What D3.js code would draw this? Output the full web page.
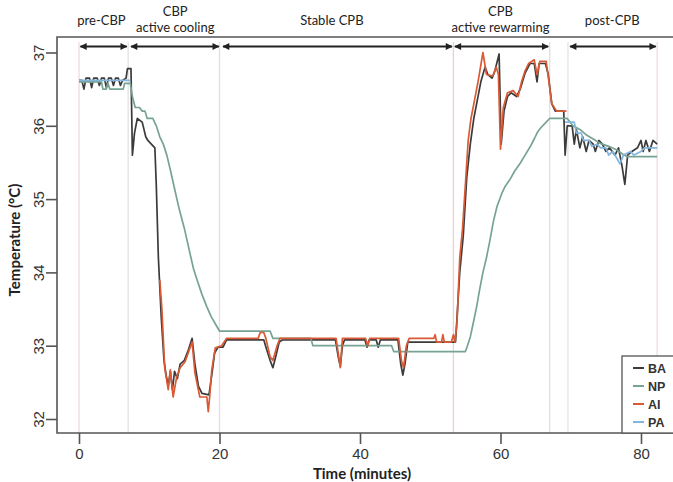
<!DOCTYPE html>
<html><head><meta charset="utf-8">
<script src="https://cdn.jsdelivr.net/npm/d3@7"></script>
<style>body{margin:0;background:#fff}svg{display:block}</style>
</head><body>
<svg id="c" width="673" height="482"></svg>
<script>
// ---- data (time in minutes, temperature in °C) ----
const xTicks = [0, 20, 40, 60, 80];
const yTicks = [32, 33, 34, 35, 36, 37];
const seriesNames = ["BA", "NP", "AI", "PA"];
const seriesColors = ["#3d3a3a", "#76a394", "#d95a35", "#82b6dd"];

const BA = [[0,36.62],[0.4,36.62],[0.7,36.5],[1.0,36.65],[1.5,36.65],[1.8,36.52],[2.1,36.65],[2.6,36.65],[2.9,36.55],[3.2,36.65],[3.6,36.65],[3.9,36.52],[4.2,36.65],[4.6,36.65],[4.9,36.55],[5.2,36.65],[5.6,36.65],[5.9,36.55],[6.2,36.62],[6.7,36.65],[6.9,36.78],[7.4,36.78],[7.6,35.6],[7.9,35.9],[8.3,36.1],[9.0,36.05],[9.5,35.85],[9.8,35.8],[10.3,35.75],[10.8,35.7],[11.0,35.2],[11.3,34.2],[11.7,33.4],[12.1,32.8],[12.4,32.6],[12.7,32.45],[13.0,32.65],[13.3,32.4],[13.6,32.65],[14.0,32.55],[14.4,32.75],[15.0,32.8],[15.6,32.95],[16.1,33.1],[16.5,32.75],[17.0,32.45],[17.5,32.35],[18.5,32.33],[18.9,32.6],[19.3,32.9],[19.8,32.98],[20.5,32.98],[21.0,33.08],[26.3,33.08],[26.7,32.95],[27.2,32.8],[27.6,32.7],[28.0,32.85],[28.5,33.05],[29,33.08],[36.5,33.08],[36.9,32.85],[37.2,32.72],[37.5,33.0],[37.8,33.08],[40.7,33.08],[41.0,32.98],[41.3,33.08],[42.3,33.08],[42.6,32.98],[42.9,33.08],[45.4,33.08],[45.8,32.75],[46.1,32.6],[46.4,32.75],[46.8,33.05],[53.6,33.05],[54.2,34.0],[54.7,34.5],[55.2,35.3],[55.7,35.75],[56.2,36.1],[56.6,36.3],[57.2,36.6],[57.8,36.8],[58.2,36.7],[58.8,36.65],[59.2,36.75],[59.8,36.98],[60.1,35.75],[60.5,36.2],[61.0,36.4],[61.5,36.45],[62.3,36.4],[62.8,36.5],[63.5,36.72],[64.2,36.85],[64.8,36.85],[65.2,36.6],[65.5,36.85],[66.4,36.85],[66.8,36.7],[67.3,36.3],[67.8,36.2],[69.0,36.2],[69.2,35.6],[69.5,36.0],[70.2,36.0],[70.5,35.75],[70.8,35.95],[71.3,35.7],[71.7,35.85],[72.2,35.65],[72.6,35.8],[73.2,35.75],[73.5,35.65],[74,35.8],[74.5,35.75],[75.0,35.65],[75.5,35.7],[76.3,35.6],[76.8,35.7],[77.3,35.45],[77.7,35.2],[78.1,35.6],[78.7,35.65],[79.5,35.7],[80.0,35.8],[80.3,35.65],[80.7,35.8],[81.2,35.65],[81.7,35.8],[82.3,35.75]];

const NP = [[0,36.6],[3.2,36.6],[3.4,36.5],[3.9,36.5],[4.1,36.58],[4.4,36.5],[6.3,36.5],[6.5,36.58],[7.3,36.58],[7.6,36.4],[8.0,36.25],[8.6,36.25],[9.0,36.2],[9.4,36.2],[9.7,36.1],[10.5,36.1],[11,36.0],[11.5,35.85],[12.0,35.75],[12.5,35.6],[13.0,35.4],[13.7,35.1],[14.3,34.85],[15.0,34.6],[15.7,34.3],[16.3,34.05],[16.8,33.9],[17.5,33.7],[18.2,33.53],[18.8,33.4],[19.4,33.3],[20.0,33.2],[27.2,33.2],[27.6,33.1],[33.0,33.1],[33.3,33.0],[44.5,33.0],[44.8,32.92],[55.0,32.92],[55.3,33.0],[55.7,33.12],[56.1,33.3],[56.6,33.53],[57.0,33.75],[57.5,34.0],[58.0,34.2],[58.5,34.44],[59.0,34.7],[59.5,34.9],[60.2,35.08],[60.7,35.18],[61.3,35.26],[62.0,35.38],[62.8,35.49],[63.5,35.6],[64.2,35.71],[64.8,35.82],[65.3,35.92],[65.8,35.98],[66.3,36.03],[67.0,36.1],[69.5,36.1],[70.3,36.0],[71.3,35.95],[72.3,35.87],[73.2,35.82],[74.2,35.76],[75.4,35.72],[76.6,35.67],[77.3,35.62],[78.0,35.58],[82.3,35.58]];

const AI = [[11.5,33.9],[11.8,33.5],[12.2,32.7],[12.7,32.4],[13.0,32.67],[13.4,32.3],[13.9,32.57],[14.4,32.7],[15.1,32.78],[15.8,32.97],[16.1,33.05],[16.5,32.63],[17.2,32.3],[18.2,32.3],[18.4,32.1],[18.6,32.3],[18.9,32.67],[19.4,32.97],[20.3,33.0],[21.0,33.1],[25.5,33.1],[25.8,33.18],[26.3,33.18],[26.6,33.1],[27.2,32.85],[27.6,32.8],[28.2,33.0],[28.6,33.1],[36.6,33.1],[36.9,32.9],[37.2,32.7],[37.5,33.1],[40.8,33.1],[41.1,33.0],[41.4,33.1],[45.5,33.1],[45.9,32.8],[46.2,32.7],[46.6,33.0],[47,33.1],[50.5,33.1],[50.7,33.15],[50.9,33.05],[51.6,33.05],[51.8,33.15],[52,33.05],[53.0,33.05],[53.3,33.15],[53.5,33.05],[53.8,33.3],[54.2,34.2],[54.6,34.6],[55.0,35.2],[55.4,35.8],[55.8,36.1],[56.2,36.3],[56.8,36.6],[57.5,37.0],[58.0,36.7],[58.9,36.68],[59.4,36.8],[59.7,36.7],[60.0,35.68],[60.4,36.25],[61.0,36.45],[61.8,36.48],[62.5,36.4],[63,36.6],[63.5,36.75],[64.0,36.85],[64.8,36.9],[65.2,36.7],[65.6,36.88],[66.5,36.88],[66.9,36.6],[67.3,36.3],[68.0,36.2],[69.4,36.2]];

const PA = [[0,36.62],[7.3,36.62],[7.4,null],[69.2,36.05],[70.5,36.05],[70.8,35.9],[71.5,35.9],[71.8,35.8],[72.6,35.8],[73,35.72],[73.8,35.75],[74.2,35.7],[75,35.7],[75.4,35.6],[76,35.65],[76.6,35.55],[77.0,35.48],[77.5,35.6],[78.5,35.65],[79,35.6],[80,35.65],[80.5,35.7],[81.2,35.7],[82.3,35.7]];

const phaseLines = [0, 7.0, 20, 53.3, 67.0, 69.6, 82.3];
const phaseLineColors = ["#eddada", "#e2e2e2", "#ecdada", "#e8d3cc", "#e6dede", "#e4e4e4", "#eedcdc"];
const phases = [
  {from: 0.2, to: 6.8, lines: ["pre-CBP"]},
  {from: 7.4, to: 19.9, lines: ["CBP", "active cooling"]},
  {from: 20.5, to: 53.1, lines: ["Stable CPB"]},
  {from: 53.5, to: 66.8, lines: ["CPB", "active rewarming"]},
  {from: 69.9, to: 82.1, lines: ["post-CPB"]}
];
const phaseLabelX = [3.2, 13.7, 36.0, 60.0, 75.9];

// ---- drawing ----
const svg = d3.select("#c");
const x = d3.scaleLinear().domain([0, 80]).range([79, 641]);
const y = d3.scaleLinear().domain([32, 37]).range([419, 52.5]);
const frame = {left: 57, top: 37, bottom: 433, right: 680};
const frameColor = "#555";

// phase vertical lines
svg.append("g").selectAll("line").data(phaseLines).join("line")
  .attr("x1", d => x(d)).attr("x2", d => x(d))
  .attr("y1", 42).attr("y2", frame.bottom)
  .attr("stroke", (d, i) => phaseLineColors[i]).attr("stroke-width", 1.3);

// series
const line = d3.line().defined(d => d[1] !== null).x(d => x(d[0])).y(d => y(d[1]));
const allSeries = [BA, NP, AI, PA];
allSeries.forEach((s, i) => {
  svg.append("path").datum(s).attr("d", line)
    .attr("fill", "none").attr("stroke", seriesColors[i])
    .attr("stroke-width", 1.7).attr("stroke-linejoin", "round");
});

// frame
svg.append("path")
  .attr("d", `M${frame.right},${frame.top}H${frame.left}V${frame.bottom}H${frame.right}`)
  .attr("fill", "none").attr("stroke", frameColor).attr("stroke-width", 1.6);

// x axis
const gx = svg.append("g").attr("transform", `translate(0,${frame.bottom})`)
  .call(d3.axisBottom(x).tickValues(xTicks).tickSize(11).tickPadding(4));
gx.select(".domain").remove();
gx.selectAll(".tick line").attr("stroke", frameColor).attr("stroke-width", 1.6);
gx.selectAll(".tick text").attr("font-family", "Liberation Sans, Arial, sans-serif")
  .attr("font-size", 15).attr("fill", "#333");

// y axis
const gy = svg.append("g").attr("transform", `translate(${frame.left},0)`)
  .call(d3.axisLeft(y).tickValues(yTicks).tickSize(11).tickFormat(d3.format("d")));
gy.select(".domain").remove();
gy.selectAll(".tick line").attr("stroke", frameColor).attr("stroke-width", 1.6);
gy.selectAll(".tick text")
  .attr("font-family", "Liberation Sans, Arial, sans-serif").attr("font-size", 15).attr("fill", "#333")
  .attr("x", null).attr("dy", null)
  .attr("text-anchor", "middle")
  .attr("transform", "translate(-18,0) rotate(-90)")
  .attr("dy", "0.36em");

// axis titles
svg.append("text").attr("x", 362).attr("y", 479).attr("text-anchor", "middle")
  .attr("font-family", "Lato, sans-serif").attr("font-weight", "bold").attr("font-size", 15)
  .attr("fill", "#222").text("Time (minutes)");
svg.append("text").attr("transform", "translate(20,240) rotate(-90)").attr("text-anchor", "middle")
  .attr("font-family", "Lato, sans-serif").attr("font-weight", "bold").attr("font-size", 15)
  .attr("fill", "#222").text("Temperature (°C)");

// phase arrows
const defs = svg.append("defs");
defs.append("marker").attr("id", "ah").attr("viewBox", "0 0 10 10")
  .attr("refX", 9).attr("refY", 5).attr("markerWidth", 9).attr("markerHeight", 7)
  .attr("markerUnits", "userSpaceOnUse").attr("orient", "auto-start-reverse")
  .append("path").attr("d", "M0,0L10,5L0,10Z").attr("fill", "#222");
const arrowY = 46.5;
svg.append("g").selectAll("line").data(phases).join("line")
  .attr("x1", d => x(d.from)).attr("x2", d => x(d.to))
  .attr("y1", arrowY).attr("y2", arrowY)
  .attr("stroke", "#222").attr("stroke-width", 2)
  .attr("marker-start", "url(#ah)").attr("marker-end", "url(#ah)");

// phase labels
phases.forEach((p, i) => {
  const cx = x(phaseLabelX[i]);
  const ys = p.lines.length === 1 ? [25] : [16, 32];
  p.lines.forEach((t, j) => {
    svg.append("text").attr("x", cx).attr("y", ys[j]).attr("text-anchor", "middle")
      .attr("font-family", "Lato, sans-serif").attr("font-size", 13).attr("fill", "#222").text(t);
  });
});

// legend
const leg = svg.append("g");
leg.append("rect").attr("x", 622).attr("y", 356).attr("width", 70).attr("height", frame.bottom - 356)
  .attr("fill", "#fff").attr("stroke", frameColor).attr("stroke-width", 1.3);
seriesNames.forEach((n, i) => {
  const ly = 368 + i * 18;
  leg.append("line").attr("x1", 633).attr("x2", 644).attr("y1", ly).attr("y2", ly)
    .attr("stroke", seriesColors[i]).attr("stroke-width", 2);
  leg.append("text").attr("x", 648).attr("y", ly).attr("dy", "0.36em")
    .attr("font-family", "Liberation Sans, Arial, sans-serif").attr("font-weight", "bold")
    .attr("font-size", 12.5).attr("fill", "#333").text(n);
});
</script>
</body></html>
